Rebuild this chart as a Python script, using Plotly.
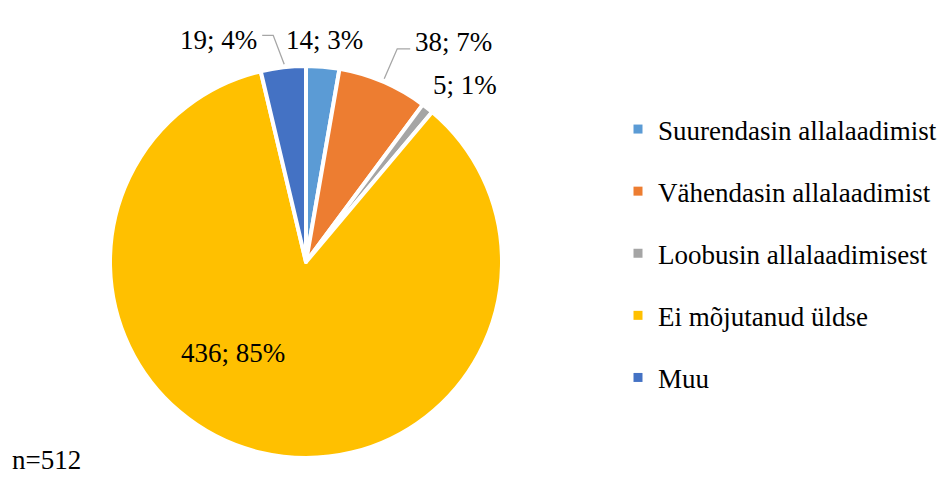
import math
import plotly.graph_objects as go

categories = ["Suurendasin allalaadimist", "Vähendasin allalaadimist",
              "Loobusin allalaadimisest", "Ei mõjutanud üldse", "Muu"]
counts = [14, 38, 5, 436, 19]
colors = ["#5B9BD5", "#ED7D31", "#A5A5A5", "#FFC000", "#4472C4"]
note = "n=512"

W, H = 948, 477
FONT = "Liberation Serif"

cx, cy, r = 306, 262, 196
total = sum(counts)

fig = go.Figure()
fig.add_trace(go.Pie(
    labels=categories, values=counts, sort=False, direction="clockwise", rotation=0,
    marker=dict(colors=colors, line=dict(color="white", width=4)),
    textinfo="none", showlegend=False, hoverinfo="label+value+percent",
    domain=dict(x=[(cx - r) / W, (cx + r) / W], y=[1 - (cy + r) / H, 1 - (cy - r) / H]),
))
for i, (cat, col) in enumerate(zip(categories, colors)):
    fig.add_trace(go.Scatter(
        x=[None], y=[None], mode="markers", name=cat, legendgroup=f"g{i}",
        marker=dict(symbol="square", size=9, color=col), showlegend=True,
    ))

# label placement (pixel offsets from slice edge; largest slice from centre)
offsets = [(2, -27, "center", None), (30, -40, "left", (14, -33, 27, -33)),
           (37, -23, "center", None), (-73, 91, "center", None),
           (-24, -27, "right", (-10, -32, -21, -32))]

def px(x, y):
    return x / W, 1 - y / H

annotations = []
shapes = []
cum = 0
for v, (dx, dy, anch, line) in zip(counts, offsets):
    mid = (cum + v / 2) / total * 2 * math.pi
    cum += v
    ex, ey = cx + r * math.sin(mid), cy - r * math.cos(mid)
    if v / total > 0.5:
        ex, ey = cx, cy
    txt = f"{v}; {round(100 * v / total)}%"
    tx, ty = px(ex + dx, ey + dy)
    annotations.append(dict(text=txt, x=tx, y=ty, xref="paper", yref="paper",
                            xanchor=anch, yanchor="middle", showarrow=False,
                            font=dict(family=FONT, size=27, color="black")))
    if line:
        x1, y1, x2, y2 = line
        p0 = px(ex + 1, ey - 3)
        p1 = px(ex + x1, ey + y1)
        p2 = px(ex + x2, ey + y2)
        shapes.append(dict(type="path", xref="paper", yref="paper",
                           path=f"M{p0[0]},{p0[1]} L{p1[0]},{p1[1]} L{p2[0]},{p2[1]}",
                           line=dict(color="#A6A6A6", width=1.3)))

annotations.append(dict(text=note, x=10 / W, y=1 - 460 / H, xref="paper", yref="paper",
                        xanchor="left", yanchor="middle", showarrow=False,
                        font=dict(family=FONT, size=27, color="black")))

fig.update_layout(
    width=W, height=H, margin=dict(l=0, r=0, t=0, b=0),
    paper_bgcolor="white", plot_bgcolor="white",
    xaxis=dict(visible=False), yaxis=dict(visible=False),
    font=dict(family=FONT, size=27, color="black"),
    legend=dict(x=618 / W, y=1 - 105 / H, xanchor="left", yanchor="top",
                tracegroupgap=24, font=dict(family=FONT, size=27, color="black"),
                bgcolor="rgba(0,0,0,0)"),
    annotations=annotations, shapes=shapes,
)
fig.write_html("out.html", config={"displayModeBar": False},
               post_script="document.body.style.margin='0';document.body.style.overflow='hidden';")
